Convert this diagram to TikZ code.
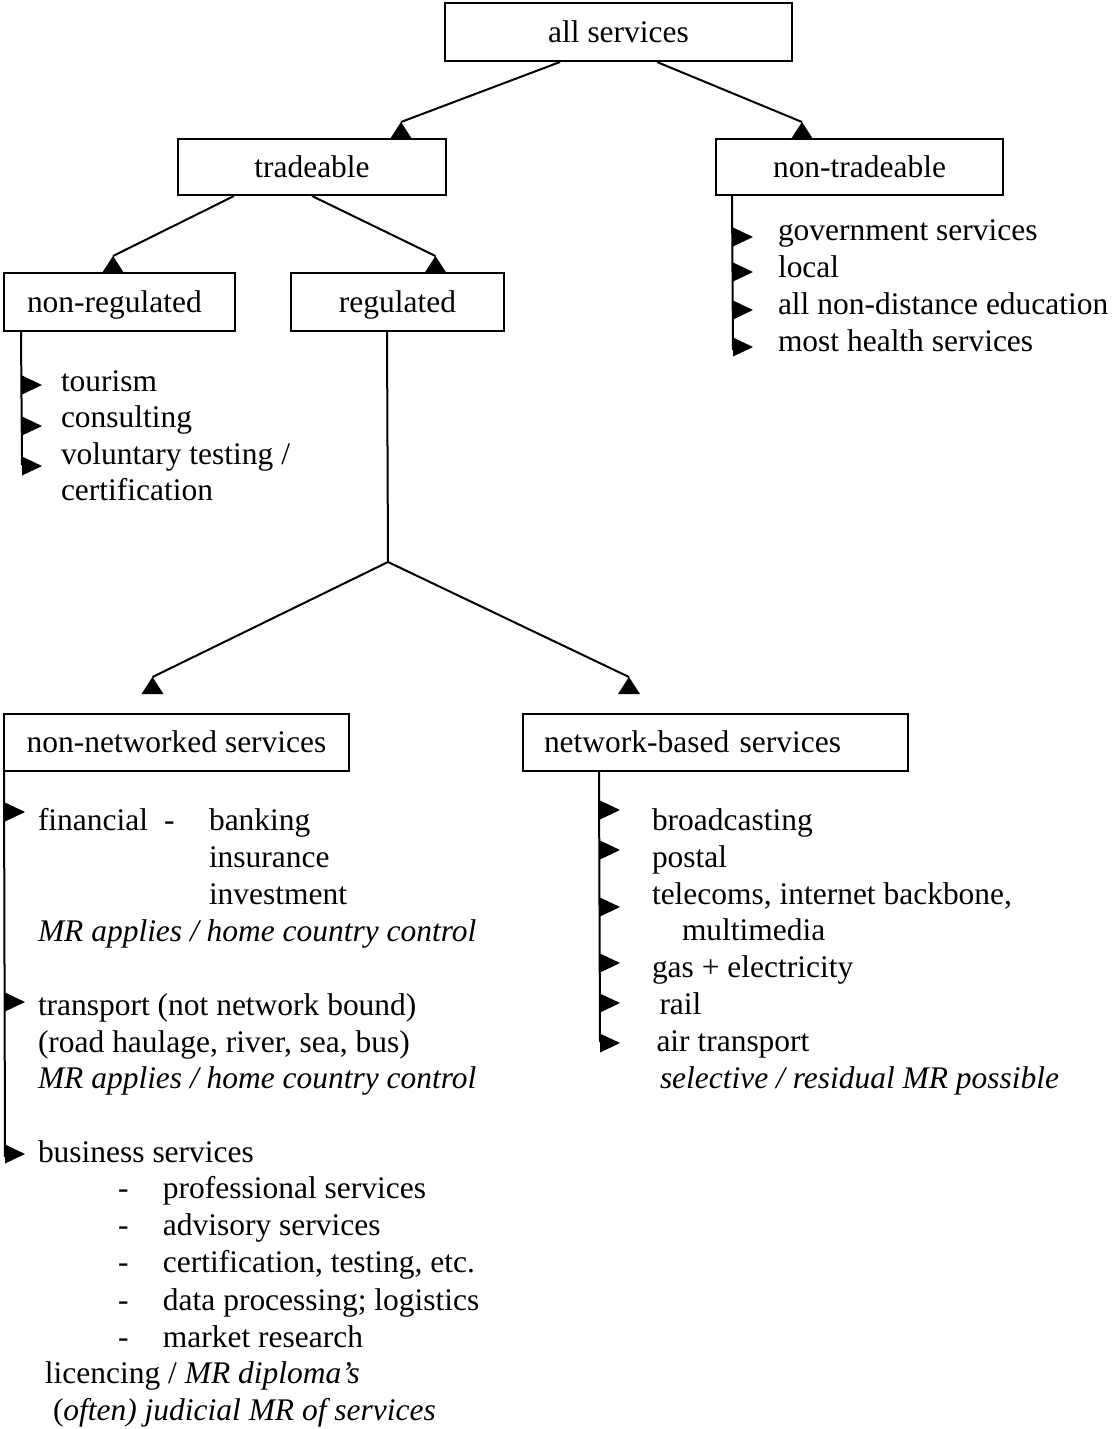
\documentclass[tikz,border=0pt]{standalone}
\usepackage{fontspec}
\setmainfont{Liberation Serif}
\usetikzlibrary{calc}
\newcommand\uptri[1]{\fill (#1) -- ++(-11,17) -- ++(22,0) -- cycle;}
\newcommand\rtri[1]{\fill (#1) ++(0,-9.5) -- ++(20,9.5) -- ++(-20,9.5) -- cycle;}
\begin{document}
\begin{tikzpicture}[x=0.75pt,y=-0.75pt, line width=1.5pt,
  every node/.style={font=\fontsize{23.6}{27.6}\selectfont},
  box/.style={draw, line width=1.5pt, inner sep=0pt, text height=18pt, text depth=3pt, align=center},
  lbox/.style={box, align=left},
  item/.style={anchor=base west, inner sep=0pt}]
\useasboundingbox (0,0) rectangle (1114,1429);

% boxes
\node[box, minimum width=260.25pt, minimum height=43.5pt] (all) at (618.5,32) {all services};
\node[box, minimum width=201pt, minimum height=42pt] (trade) at (312,167) {tradeable};
\node[box, minimum width=215.25pt, minimum height=42pt] (nontrade) at (859.5,167) {non-tradeable};
\node[lbox, text width=138.75pt, inner xsep=17.25pt, minimum height=43.5pt] (nonreg) at (119.5,302) {non-regulated};
\node[box, minimum width=159.75pt, minimum height=43.5pt] (reg) at (397.5,302) {regulated};
\node[box, minimum width=258.75pt, minimum height=42.75pt] (nonnet) at (176.5,742.5) {non-networked services};
\node[lbox, text width=257.25pt, inner xsep=15.75pt, minimum height=42.75pt] (netb) at (715.5,742.5) {network-based services};

% connectors
\coordinate (aT) at (401,122);
\coordinate (aN) at (802,122);
\draw ($(all.south west)+(116,0)$) -- (aT); \uptri{aT}
\draw ($(all.south west)+(213,0)$) -- (aN); \uptri{aN}
\coordinate (tL) at (113,256);
\coordinate (tR) at (435.5,256);
\draw ($(trade.south west)+(57,0)$) -- (tL); \uptri{tL}
\draw (trade.south) -- (tR); \uptri{tR}
\coordinate (rJ) at (388,562);
\coordinate (rL) at (152.5,677);
\coordinate (rR) at (629,677);
\draw ($(reg.south west)+(97,0)$) -- (rJ);
\draw (rL) -- (rJ) -- (rR);
\uptri{rL} \uptri{rR}

% non-regulated list
\coordinate (nrEnd) at (22,465);
\draw ($(nonreg.south west)+(18,0)$) -- (nrEnd);
\rtri{22,385} \rtri{22,426} \rtri{22,466}
\node[item] (nr1) at (60,391) {tourism};
\node[item] (nr2) at (60,427.5) {consulting};
\node[item] (nr3) at (60,464) {voluntary testing /};
\node[item] (nr4) at (60,500.5) {certification};

% non-tradeable list
\coordinate (ntEnd) at (733,350);
\draw ($(nontrade.south west)+(17,0)$) -- (ntEnd);
\rtri{733,237} \rtri{733,272} \rtri{733,310} \rtri{733,347}
\node[item] (nt1) at (777,240) {government services};
\node[item] (nt2) at (777,277) {local};
\node[item] (nt3) at (777,314) {all non-distance education};
\node[item] (nt4) at (777,351) {most health services};

% non-networked list
\coordinate (nnEnd) at (5,1157);
\draw ($(nonnet.south west)+(1,0)$) -- (nnEnd);
\rtri{5,812} \rtri{5,1002} \rtri{5,1154}
\node[item] (nn1) at (37,830) {\makebox[94.5pt][l]{financial}\makebox[33.75pt][l]{-}banking};
\node[item] (nn2) at (208,867) {insurance};
\node[item] (nn3) at (208,904) {investment};
\node[item] (nn4) at (37,941) {\textit{MR applies / home country control}};
\node[item] (nn5) at (37,1015) {transport (not network bound)};
\node[item] (nn6) at (37,1052) {(road haulage, river, sea, bus)};
\node[item] (nn7) at (37,1088) {\textit{MR applies / home country control}};
\node[item] (nn8) at (37,1162) {business services};
\node[item] (nn9) at (117,1198) {\makebox[33.75pt][l]{-}professional services};
\node[item] (nn10) at (117,1235) {\makebox[33.75pt][l]{-}advisory services};
\node[item] (nn11) at (117,1272) {\makebox[33.75pt][l]{-}certification, testing, etc.};
\node[item] (nn12) at (117,1310) {\makebox[33.75pt][l]{-}data processing; logistics};
\node[item] (nn13) at (117,1347) {\makebox[33.75pt][l]{-}market research};
\node[item] (nn14) at (44,1383) {licencing / \textit{MR diploma’s}};
\node[item] (nn15) at (52,1420) {(\textit{often) judicial MR of services}};

% network-based list
\coordinate (nbEnd) at (600,1042);
\draw ($(netb.south west)+(77,0)$) -- (nbEnd);
\rtri{600,810} \rtri{600,850} \rtri{600,907} \rtri{600,963} \rtri{600,1003} \rtri{600,1043}
\node[item] (nb1) at (651,830) {broadcasting};
\node[item] (nb2) at (651,867) {postal};
\node[item] (nb3) at (651,904) {telecoms, internet backbone,};
\node[item] (nb4) at (681,940) {multimedia};
\node[item] (nb5) at (651,977) {gas + electricity};
\node[item] (nb6) at (658.5,1014) {rail};
\node[item] (nb7) at (655.5,1051) {air transport};
\node[item] (nb8) at (659,1088) {\textit{selective / residual MR possible}};
\end{tikzpicture}
\end{document}
